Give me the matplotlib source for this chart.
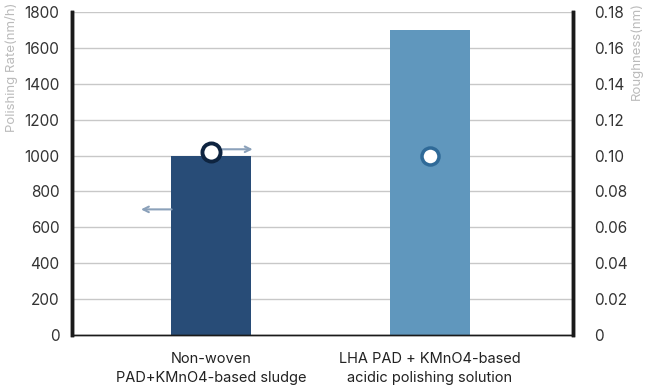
import numpy as np
import matplotlib.pyplot as plt

plt.rcParams['font.family'] = ['Inter', 'DejaVu Sans']

# data
categories = ['Non-woven\nPAD+KMnO4-based sludge',
              'LHA PAD + KMnO4-based\nacidic polishing solution']
polishing_rate = [1000, 1700]       # nm/h
roughness = [0.102, 0.100]          # nm
rate_ticks = list(range(0, 1801, 200))
rough_ticks = [0, 0.02, 0.04, 0.06, 0.08, 0.10, 0.12, 0.14, 0.16, 0.18]
rough_labels = ['0', '0.02', '0.04', '0.06', '0.08', '0.10', '0.12', '0.14', '0.16', '0.18']

bar_colors = ['#284c77', '#6097bd']
edge_colors = ['#0e2440', '#2f6a98']

fig = plt.figure(figsize=(6.48, 3.88), dpi=100)
ax = fig.add_axes([72/648, 1 - 335/388, 501/648, 323/388])
ax2 = ax.twinx()

x = np.arange(len(categories))
ax.bar(x, polishing_rate, width=0.365, color=bar_colors, zorder=2)
ax.set_xlim(-0.635, 1.653)
ax.set_ylim(0, 1800)
ax.set_yticks(rate_ticks)
ax.set_yticklabels([str(t) for t in rate_ticks])
ax.yaxis.grid(True, color='#c8c8c8', linewidth=1)
ax.set_axisbelow(True)
ax.set_xticks(x)
ax.set_xticklabels(categories, fontsize=10.5, color='#222222', linespacing=1.5)
ax.tick_params(axis='x', length=0, pad=12)
ax.tick_params(axis='y', length=0, labelsize=11, labelcolor='#333333', pad=9)

ax2.set_ylim(0, 0.18)
ax2.set_yticks(rough_ticks)
ax2.set_yticklabels(rough_labels)
ax2.tick_params(axis='y', length=0, labelsize=11, labelcolor='#333333', pad=15)

fig.text(12/648, 1 - 3/388, 'Polishing Rate(nm/h)', rotation=90, va='top', ha='center',
         fontsize=9.5, color='#bbbbbb')
fig.text(637/648, 1 - 2/388, 'Roughness(nm)', rotation=90, va='top', ha='center',
         fontsize=9.5, color='#bbbbbb')

for a in (ax, ax2):
    a.spines['top'].set_visible(False)
    a.spines['left'].set_linewidth(2.5)
    a.spines['right'].set_linewidth(2.5)
    a.spines['left'].set_color('#1a1a1a')
    a.spines['right'].set_color('#1a1a1a')
    a.spines['bottom'].set_color('#1a1a1a')
    a.spines['bottom'].set_linewidth(1)

ax2.scatter(x[0], roughness[0], s=170, facecolor='white', edgecolor=edge_colors[0],
            linewidth=2.8, zorder=5)
ax2.scatter(x[1], roughness[1], s=150, facecolor='white', edgecolor=edge_colors[1],
            linewidth=2.5, zorder=5)

# arrows pointing to the matching axis
arrow_col = '#8ba1ba'
ax2.annotate('', xy=(x[0] + 0.19, roughness[0] + 0.0015), xytext=(x[0] + 0.05, roughness[0] + 0.0015),
             arrowprops=dict(arrowstyle='->', color=arrow_col, lw=1.5, mutation_scale=10,
                             shrinkA=0, shrinkB=0))
ax.annotate('', xy=(x[0] - 0.32, 700), xytext=(x[0] - 0.18, 700),
            arrowprops=dict(arrowstyle='->', color=arrow_col, lw=1.5, mutation_scale=10,
                            shrinkA=0, shrinkB=0))

fig.savefig('out.png', dpi=100)
